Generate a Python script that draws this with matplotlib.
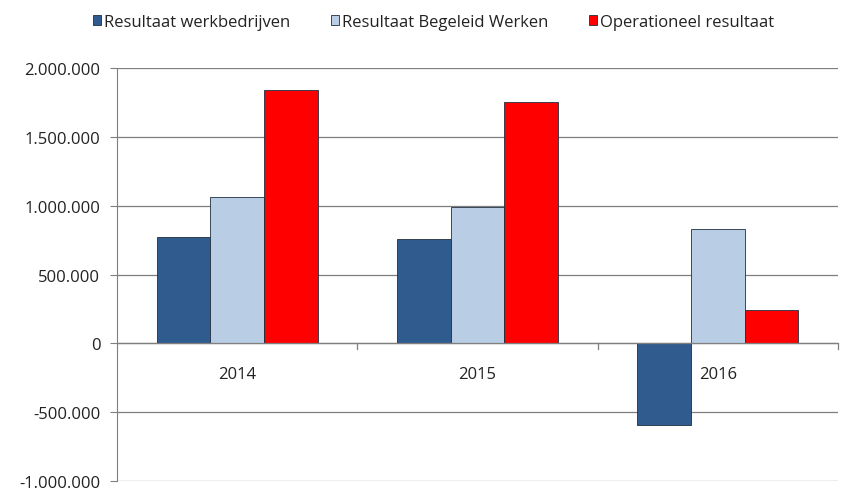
import matplotlib.pyplot as plt
import numpy as np
from matplotlib.ticker import FuncFormatter

years = ['2014', '2015', '2016']
werkbedrijven = [776000, 757000, -594000]
begeleid_werken = [1060000, 992000, 830000]
operationeel = [1841000, 1756000, 242000]

series = [
    ("Resultaat werkbedrijven", werkbedrijven, '#2f5b8f'),
    ("Resultaat Begeleid Werken", begeleid_werken, '#b9cde5'),
    ("Operationeel resultaat", operationeel, '#ff0000'),
]

plt.rcParams['font.family'] = ['Open Sans', 'DejaVu Sans']

fig = plt.figure(figsize=(8.5, 5.02), dpi=100)
ax = fig.add_axes([117 / 850, 1 - 482 / 502, 721 / 850, (482 - 69) / 502])

x = np.arange(len(years))
width = 0.223
for i, (label, vals, color) in enumerate(series):
    ax.bar(x + (i - 1) * width, vals, width, color=color, edgecolor='#1f2f40',
           linewidth=0.6, label=label, zorder=3)

ax.set_xlim(-0.5, len(years) - 0.5)
ax.set_ylim(-1000000, 2000000)
ax.set_yticks(np.arange(-1000000, 2000001, 500000))
ax.yaxis.set_major_formatter(FuncFormatter(lambda v, p: f"{int(v):,}".replace(',', '.')))
ax.grid(axis='y', color='#7f7f7f', linewidth=0.9, zorder=0)
ax.tick_params(axis='y', length=5, color='#7f7f7f', labelsize=12, labelcolor='#222222', pad=7)

for s in ['top', 'right', 'bottom']:
    ax.spines[s].set_visible(False)
ax.spines['left'].set_color('#7f7f7f')
ax.axhline(0, color='#7f7f7f', linewidth=0.9, zorder=4)

# category ticks on the zero line
ax.set_xticks([])
for b in np.arange(0.5, len(years), 1.0):
    ax.plot([b, b], [0, -40000], color='#7f7f7f', linewidth=0.9, zorder=4, clip_on=False)
for xi, yr in zip(x, years):
    ax.text(xi, -220000, yr, ha='center', va='center', fontsize=12, color='#222222', zorder=5)

leg = fig.legend(loc='upper center', bbox_to_anchor=(0.51, 1.0), ncol=3, frameon=False,
                 fontsize=12, handlelength=0.5, handleheight=0.6, handletextpad=0.2,
                 columnspacing=2.4)
for t in leg.get_texts():
    t.set_color('#222222')

fig.savefig('out.png', dpi=100)
